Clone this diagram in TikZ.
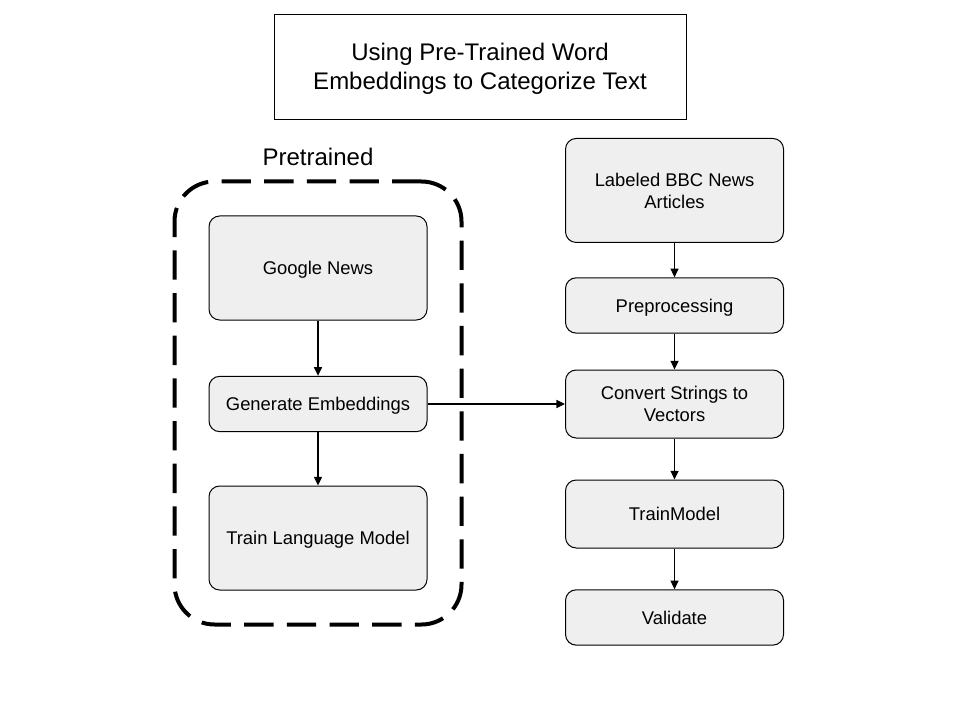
\documentclass[tikz,border=0pt]{standalone}
\usepackage{fontspec}
\setmainfont{Liberation Sans}
\usetikzlibrary{positioning, arrows.meta, fit}
\definecolor{boxgray}{RGB}{239,239,239}

\begin{document}
\begin{tikzpicture}[on grid, >={Triangle[length=6.5pt,width=6pt]},
    stage/.style={draw, line width=0.75pt, fill=boxgray, rounded corners=8pt, inner sep=0pt,
      minimum width=163.5pt, align=center, text depth=0pt, font=\fontsize{13.8}{16.5}\selectfont},
    stagetall/.style={stage, minimum height=78pt},
    stageshort/.style={stage, minimum height=41.5pt},
    stagemid/.style={stage, minimum height=51pt}]
   \useasboundingbox (0,0) rectangle (720pt,-540pt);

   % Title
   \node[draw, line width=0.75pt, minimum width=309pt, minimum height=78.75pt, align=center,
     text depth=0pt, font=\fontsize{18}{21.75}\selectfont] (title) at (360pt,-49.9pt)
     {Using Pre-Trained Word\\Embeddings to Categorize Text};

   % Pretrained column
   \node[stagetall] (gnews) at (238.5pt,-201pt) {Google News};
   \node[stageshort] (genemb) [below=102pt of gnews] {Generate Embeddings};
   \node[stagetall] (trainlm) [below=100.5pt of genemb] {Train Language Model};

   % Dashed frame and its label
   \node[draw, line width=3pt, dash pattern=on 22pt off 10pt, rounded corners=30pt,
     inner sep=25.5pt, fit=(gnews)(trainlm)] (pretrained) {};
   \node[font=\fontsize{18}{21.6}\selectfont] (ptlabel) [above=6.75pt of pretrained.north] {Pretrained};

   % Classifier column
   \node[stagemid] (convert) [right=267.4pt of genemb] {Convert Strings to\\Vectors};
   \node[stageshort] (prep) [above=73.9pt of convert] {Preprocessing};
   \node[stagetall] (bbc) [above=86.25pt of prep] {Labeled BBC News\\Articles};
   \node[stagemid] (trainm) [below=82.5pt of convert] {TrainModel};
   \node[stageshort] (valid) [below=77.6pt of trainm] {Validate};

   % Arrows
   \path[->, line width=1pt]
    (gnews) edge (genemb)
    (genemb) edge (trainlm)
    (genemb) edge (convert)
    (bbc) edge (prep)
    (prep) edge (convert)
    (convert) edge (trainm)
    (trainm) edge (valid);
\end{tikzpicture}
\end{document}
